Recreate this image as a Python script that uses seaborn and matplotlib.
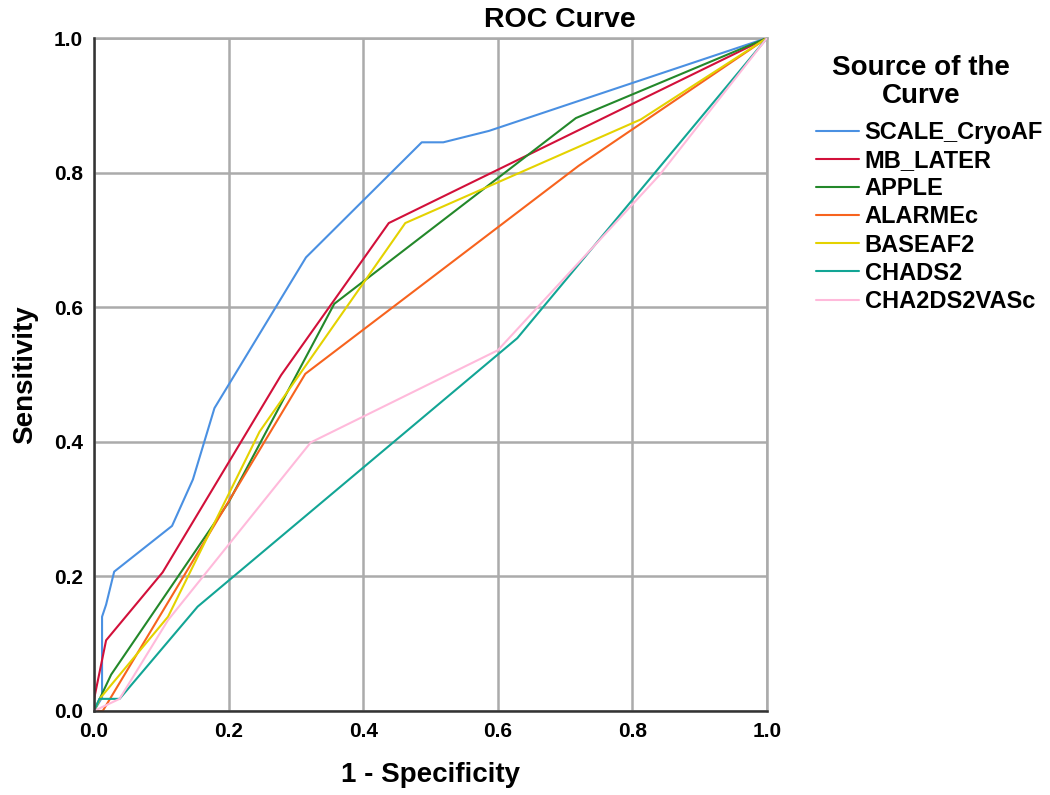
import numpy as np
import pandas as pd
import matplotlib
matplotlib.use("Agg")
import matplotlib.pyplot as plt
import seaborn as sns

# ---- data ----
models = ["SCALE_CryoAF", "MB_LATER", "APPLE", "ALARMEc", "BASEAF2", "CHADS2", "CHA2DS2VASc"]

scale_x = [0.0, 0.012, 0.012, 0.018, 0.030, 0.116, 0.147, 0.179, 0.315, 0.487, 0.519, 0.587, 1.0]
scale_y = [0.0, 0.020, 0.140, 0.158, 0.207, 0.275, 0.344, 0.450, 0.674, 0.845, 0.845, 0.862, 1.0]

mb_x = [0.0, 0.0, 0.018, 0.102, 0.278, 0.438, 1.0]
mb_y = [0.0, 0.017, 0.105, 0.206, 0.499, 0.725, 1.0]

apple_x = [0.0, 0.0255, 0.200, 0.357, 0.716, 1.0]
apple_y = [0.0, 0.054, 0.310, 0.605, 0.881, 1.0]

alarm_x = [0.0, 0.013, 0.314, 0.720, 1.0]
alarm_y = [0.0, 0.0, 0.501, 0.810, 1.0]

base_x = [0.0, 0.010, 0.110, 0.246, 0.4625, 0.8125, 1.0]
base_y = [0.0, 0.020, 0.140, 0.415, 0.725, 0.879, 1.0]

chads_x = [0.0, 0.008, 0.038, 0.154, 0.629, 1.0]
chads_y = [0.0, 0.018, 0.018, 0.155, 0.554, 1.0]

cha2_x = [0.0, 0.038, 0.110, 0.322, 0.600, 0.840, 1.0]
cha2_y = [0.0, 0.018, 0.135, 0.399, 0.536, 0.796, 1.0]

xs = [scale_x, mb_x, apple_x, alarm_x, base_x, chads_x, cha2_x]
ys = [scale_y, mb_y, apple_y, alarm_y, base_y, chads_y, cha2_y]

colors = ["#4A90E2", "#D2103A", "#23882A", "#F7631E", "#E4D200", "#12A595", "#FFBADB"]

tick_vals = [0.0, 0.2, 0.4, 0.6, 0.8, 1.0]
tick_labels = ["0.0", "0.2", "0.4", "0.6", "0.8", "1.0"]

rows = []
for m, xx, yy in zip(models, xs, ys):
    for i, (a, b) in enumerate(zip(xx, yy)):
        rows.append({"model": m, "order": i, "x": a, "y": b})
df = pd.DataFrame(rows)

# ---- plot ----
sns.set_theme(style="white")
plt.rcParams["font.family"] = ["Liberation Sans", "DejaVu Sans"]
plt.rcParams["text.color"] = "black"

fig = plt.figure(figsize=(10.5, 7.95), dpi=100)
ax = fig.add_axes([0.0895, 0.1057, 0.6410, 0.8465])

sns.lineplot(data=df, x="x", y="y", hue="model", hue_order=models,
             palette=colors, estimator=None, sort=False, linewidth=1.5,
             ax=ax, legend=False, zorder=3)

ax.set_xlim(0, 1)
ax.set_ylim(0, 1)
ax.set_xticks(tick_vals)
ax.set_xticklabels(tick_labels, fontsize=15, fontweight="bold")
ax.set_yticks(tick_vals)
ax.set_yticklabels(tick_labels, fontsize=15, fontweight="bold")
ax.tick_params(axis="both", length=0, colors="black")
ax.tick_params(axis="x", pad=8)
ax.tick_params(axis="y", pad=8)
ax.grid(True, color="#ABABAB", linewidth=1.8, zorder=0)
ax.set_axisbelow(True)
for s in ["top", "right"]:
    ax.spines[s].set_color("#ABABAB")
    ax.spines[s].set_linewidth(1.8)
for s in ["left", "bottom"]:
    ax.spines[s].set_color("#333333")
    ax.spines[s].set_linewidth(1.8)
    ax.spines[s].set_zorder(4)

ax.set_xlabel("1 - Specificity", fontsize=20, fontweight="bold", labelpad=15, color="black")
ax.set_ylabel("Sensitivity", fontsize=20, fontweight="bold", labelpad=11, color="black")
fig.text(0.533, 0.975, "ROC Curve", fontsize=20.5, fontweight="bold",
         ha="center", va="center", color="black")

# legend title drawn as figure text (centred as in the reference)
fig.text(921 / 1050, 1 - 82 / 795, "Source of the\nCurve", fontsize=20,
         fontweight="bold", ha="center", va="center", multialignment="center",
         linespacing=1.12, color="black")

handles = [plt.Line2D([0], [0], color=c, linewidth=1.5) for c in colors]
leg = ax.legend(handles, models,
                loc="upper left", bbox_to_anchor=(1.073, 0.877),
                frameon=False, prop={"size": 17, "weight": "bold"},
                handlelength=1.8, handletextpad=0.25, labelspacing=0.22,
                borderaxespad=0.0, borderpad=0.0)
for t in leg.get_texts():
    t.set_color("black")

fig.savefig("out.png", dpi=100)
